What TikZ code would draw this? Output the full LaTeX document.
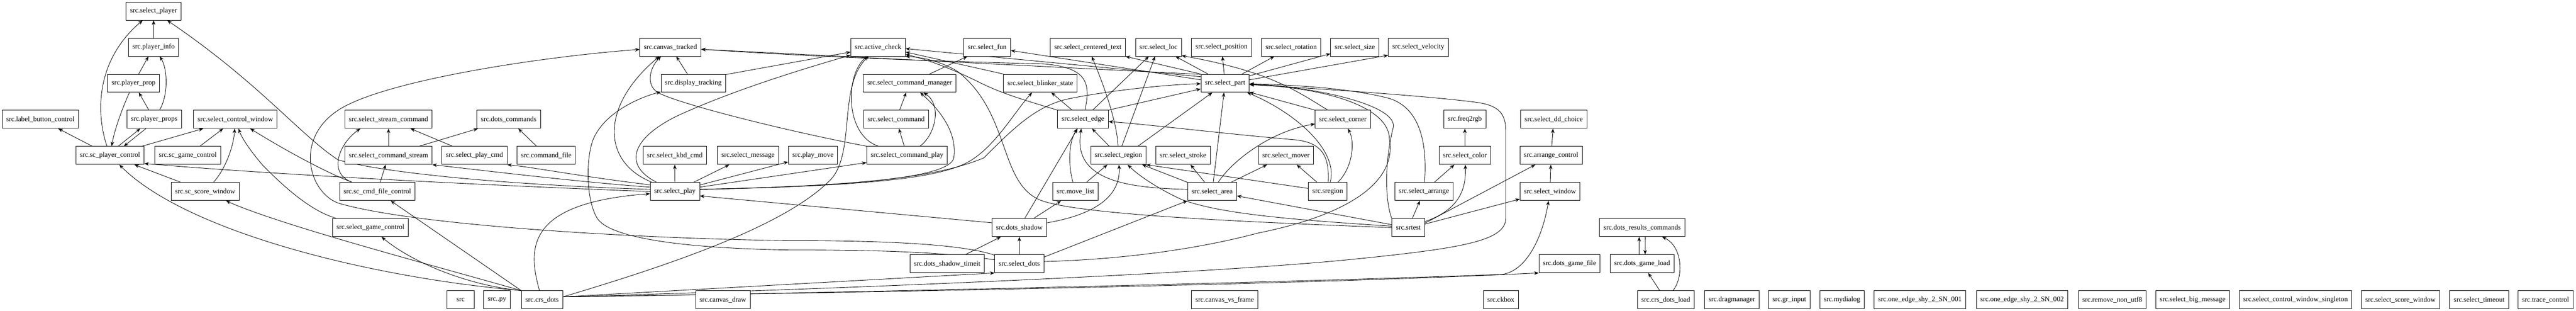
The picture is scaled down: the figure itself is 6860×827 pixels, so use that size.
\documentclass[tikz,border=0pt]{standalone}
\usepackage{fontspec}
\setmainfont{Liberation Serif}
\usetikzlibrary{arrows.meta,calc}
\pgfdeclarelayer{bg}
\pgfsetlayers{bg,main}
\begin{document}
\begin{tikzpicture}[x=0.75pt,y=-0.75pt,
  modbox/.style={draw, line width=0.9pt, rectangle, fill=white, minimum height=36pt, minimum width=54pt, inner xsep=8pt, inner ysep=0pt, font=\fontsize{14pt}{16pt}\selectfont},
  dep/.style={draw, line width=0.9pt, -{Stealth[length=9pt,width=7pt,inset=3pt]}}]
\begin{pgfonlayer}{bg}
\fill[white] (0,0) rectangle (6860,827);
\end{pgfonlayer}
\useasboundingbox (0,0) rectangle (6860,827);
% row 1
\node[modbox] (selplayer) at (409,29.5) {src.select\_player};
% row 2
\node[modbox] (plinfo) at (409,125.5) {src.player\_info};
\node[modbox] (cantr) at (1785.3,125.5) {src.canvas\_tracked};
\node[modbox] (actchk) at (2338.3,125.5) {src.active\_check};
\node[modbox] (selfun) at (2629,125.5) {src.select\_fun};
\node[modbox] (sct) at (2896.9,125.5) {src.select\_centered\_text};
\node[modbox] (selloc) at (3085,125.5) {src.select\_loc};
\node[modbox] (selpos) at (3253,125.5) {src.select\_position};
\node[modbox] (selrot) at (3438.4,125.5) {src.select\_rotation};
\node[modbox] (selsize) at (3607.8,125.5) {src.select\_size};
\node[modbox] (selvel) at (3777,125.5) {src.select\_velocity};
% row 3
\node[modbox] (plprop) at (355.6,221.5) {src.player\_prop};
\node[modbox] (distr) at (1846.3,221.5) {src.display\_tracking};
\node[modbox] (scm) at (2422.5,221.5) {src.select\_command\_manager};
\node[modbox] (sbs) at (2770.5,221.5) {src.select\_blinker\_state};
\node[modbox] (selpart) at (3262.5,221.5) {src.select\_part};
% row 4
\node[modbox] (lbc) at (107.6,317.5) {src.label\_button\_control};
\node[modbox] (plprops) at (410.5,317.5) {src.player\_props};
\node[modbox] (scw) at (626.6,317.5) {src.select\_control\_window};
\node[modbox] (ssc) at (1034.6,317.5) {src.select\_stream\_command};
\node[modbox] (dcmds) at (1354.6,317.5) {src.dots\_commands};
\node[modbox] (selcmd) at (2386.4,317.5) {src.select\_command};
\node[modbox] (seledge) at (2884,317.5) {src.select\_edge};
\node[modbox] (selcorner) at (3576,317.5) {src.select\_corner};
\node[modbox] (freq) at (3901,317.5) {src.freq2rgb};
\node[modbox] (selddc) at (4137.5,317.5) {src.select\_dd\_choice};
% row 5
\node[modbox] (scpc) at (293,413.5) {src.sc\_player\_control};
\node[modbox] (scgc) at (500,413.5) {src.sc\_game\_control};
\node[modbox] (scs) at (1034.6,413.5) {src.select\_command\_stream};
\node[modbox] (spc) at (1263.6,413.5) {src.select\_play\_cmd};
\node[modbox] (cmdfile) at (1454.6,413.5) {src.command\_file};
\node[modbox] (skc) at (1797,413.5) {src.select\_kbd\_cmd};
\node[modbox] (selmsg) at (1992,413.5) {src.select\_message};
\node[modbox] (plmove) at (2165,413.5) {src.play\_move};
\node[modbox] (scp) at (2415.5,413.5) {src.select\_command\_play};
\node[modbox] (selregion) at (2978.3,413.5) {src.select\_region};
\node[modbox] (selstroke) at (3150.5,413.5) {src.select\_stroke};
\node[modbox] (selmover) at (3424.6,413.5) {src.select\_mover};
\node[modbox] (selcolor) at (3901,413.5) {src.select\_color};
\node[modbox] (arrctl) at (4130.6,413.5) {src.arrange\_control};
% row 6
\node[modbox] (scsw) at (546.4,509.5) {src.sc\_score\_window};
\node[modbox] (sccfc) at (1004.8,509.5) {src.sc\_cmd\_file\_control};
\node[modbox] (selplay) at (1797.3,509.5) {src.select\_play};
\node[modbox] (movelist) at (2863.8,509.5) {src.move\_list};
\node[modbox] (selarea) at (3228,509.5) {src.select\_area};
\node[modbox] (sregion) at (3535.8,509.5) {src.sregion};
\node[modbox] (selarr) at (3791.7,509.5) {src.select\_arrange};
\node[modbox] (selwin) at (4127.7,509.5) {src.select\_window};
% row 7
\node[modbox] (sgc) at (986.4,605.5) {src.select\_game\_control};
\node[modbox] (dshadow) at (2714.5,605.5) {src.dots\_shadow};
\node[modbox] (srtest) at (3750.5,605.5) {src.srtest};
\node[modbox] (drc) at (4373.2,605.5) {src.dots\_results\_commands};
% row 8
\node[modbox] (dst) at (2522.3,701.5) {src.dots\_shadow\_timeit};
\node[modbox] (seldots) at (2714.5,701.5) {src.select\_dots};
\node[modbox] (dgfile) at (4179.7,701.5) {src.dots\_game\_file};
\node[modbox] (dgload) at (4373,701.5) {src.dots\_game\_load};
% row 9
\node[modbox] (src) at (1226.6,797.5) {src};
\node[modbox] (srcpy) at (1323.5,797.5) {src..py};
\node[modbox] (crsdots) at (1443.5,797.5) {src.crs\_dots};
\node[modbox] (candraw) at (1925,797.5) {src.canvas\_draw};
\node[modbox] (canvf) at (3261.4,797.5) {src.canvas\_vs\_frame};
\node[modbox] (ckbox) at (3996.9,797.5) {src.ckbox};
\node[modbox] (crsdl) at (4436,797.5) {src.crs\_dots\_load};
\node[modbox] (dragm) at (4612,797.5) {src.dragmanager};
\node[modbox] (grin) at (4765,797.5) {src.gr\_input};
\node[modbox] (mydlg) at (4905.4,797.5) {src.mydialog};
\node[modbox] (sna) at (5112.9,797.5) {src.one\_edge\_shy\_2\_SN\_001};
\node[modbox] (snb) at (5384.8,797.5) {src.one\_edge\_shy\_2\_SN\_002};
\node[modbox] (rnu) at (5625,797.5) {src.remove\_non\_utf8};
\node[modbox] (sbm) at (5839,797.5) {src.select\_big\_message};
\node[modbox] (scws) at (6113,797.5) {src.select\_control\_window\_singleton};
\node[modbox] (sscw) at (6392.5,797.5) {src.select\_score\_window};
\node[modbox] (stime) at (6602,797.5) {src.select\_timeout};
\node[modbox] (trace) at (6778.8,797.5) {src.trace\_control};

\begin{pgfonlayer}{bg}
% left cluster
\draw[dep] (plinfo) -- (selplayer);
\draw[dep] (scpc) .. controls (255,300) and (255,160) .. (selplayer);
\draw[dep] (selplay.175) .. controls (1300,490) and (1000,455) .. (900,425) .. controls (800,360) and (690,220) .. (selplayer);
\draw[dep] (plprop) -- (plinfo);
\draw[dep] (plprops) .. controls (450,250) and (445,180) .. (plinfo);
\draw[dep] (plprops) -- (plprop);
\draw[dep] (plprop) .. controls (325,290) and (305,345) .. (scpc);
\draw[dep] ($(scpc.north)+(22,0)$) -- ($(plprops.south)+(-37,0)$);
\draw[dep] ($(plprops.south)+(-22,0)$) -- ($(scpc.north)+(37,0)$);
\draw[dep] (scpc) -- (lbc);
\draw[dep] (scpc) -- (scw);
\draw[dep] (scgc) -- (scw);
\draw[dep] (scsw) .. controls (600,450) and (622,390) .. (scw);
\draw[dep] (sgc) .. controls (820,560) and (740,480) .. (700,440) .. controls (670,405) and (645,370) .. (scw);
\draw[dep] (sccfc) .. controls (870,460) and (760,400) .. (scw);
\draw[dep] (scsw) -- (scpc);
\draw[dep] (selplay.west) .. controls (1400,497) and (800,470) .. ($(scpc.south east)+(0,-3)$);
\draw[dep] (crsdots.north west) .. controls (1000,740) and (500,620) .. (scpc);
\draw[dep] (crsdots.north west) .. controls (1150,705) and (750,600) .. (scsw);
% command stream cluster
\draw[dep] (sccfc) .. controls (870,460) and (905,380) .. ($(ssc.south)+(-75,0)$);
\draw[dep] (scs) -- (ssc);
\draw[dep] (spc) -- (ssc);
\draw[dep] (scs) -- (dcmds);
\draw[dep] (cmdfile) -- (dcmds);
\draw[dep] (sccfc) -- (scs);
\draw[dep] (selplay.170) .. controls (1550,485) and (1300,455) .. (scs.south east);
\draw[dep] (selplay.165) .. controls (1550,470) and (1420,445) .. (spc.south east);
\draw[dep] (crsdots.north west) -- (sccfc);
\draw[dep] (crsdots.north west) .. controls (1250,760) and (1100,700) .. (sgc);
% select_dots loops
\draw[dep] (seldots) .. controls (2550,645) and (2300,640) .. (2100,640) .. controls (1700,635) and (1100,600) .. (900,540) .. controls (820,510) and (780,360) .. (914,285) .. controls (1050,210) and (1450,150) .. (cantr);
\draw[dep] (seldots) .. controls (2500,668) and (2300,665) .. (2100,665) .. controls (1800,660) and (1620,630) .. (1590,580) .. controls (1560,530) and (1560,420) .. (1580,370) .. controls (1610,300) and (1700,260) .. (distr);
% select_play
\draw[dep] (selplay) -- (skc);
\draw[dep] (selplay) -- (selmsg);
\draw[dep] (selplay) -- (plmove);
\draw[dep] (selplay) .. controls (1600,430) and (1600,280) .. (cantr);
\draw[dep] (selplay) .. controls (1660,440) and (1680,370) .. (1800,310) .. controls (1950,240) and (2150,180) .. (actchk);
\draw[dep] (distr) -- (cantr);
\draw[dep] (distr.15) -- (actchk.190);
\draw[dep] (scp.north west) .. controls (2100,350) and (1800,275) .. (1750,245) .. controls (1720,225) and (1730,180) .. (cantr);
\draw[dep] (crsdots) .. controls (1405,660) and (1400,540) .. (selplay.185);
\draw[dep] (dshadow.170) -- (selplay.-10);
\draw[dep] (crsdots.8) .. controls (1800,700) and (2090,600) .. (2210,480) .. controls (2280,410) and (2230,230) .. (actchk);
\draw[dep] (selplay.10) -- (scp.190);
\draw[dep] (selplay.5) .. controls (2300,495) and (2530,470) .. (2540,420) .. controls (2550,350) and (2500,290) .. (scm);
\draw[dep] (selplay.5) .. controls (2300,495) and (2500,475) .. (2580,430) .. controls (2650,390) and (2700,300) .. (sbs);
\draw[dep] (selplay.5) .. controls (2300,495) and (2500,470) .. (2620,420) .. controls (2700,340) and (2760,280) .. (2850,262) .. controls (2950,242) and (3100,225) .. (selpart);
% command manager cluster
\draw[dep] (scm) -- (selfun);
\draw[dep] (selcmd) -- (scm);
\draw[dep] (scp) -- (selcmd);
\draw[dep] (scp) .. controls (2490,360) and (2510,280) .. (scm);
\draw[dep] (scp) .. controls (2250,360) and (2250,200) .. (actchk);
% select_part to the left
\draw[dep] (selpart.160) -- (cantr.-4);
\draw[dep] (selpart.165) -- (actchk.-3);
\draw[dep] (selpart.172) -- (selfun.-8);
\draw[dep] (selpart.north west) -- (sct.south east);
\draw[dep] (seledge) .. controls (2905,220) and (2895,180) .. (2780,170) .. controls (2450,162) and (2150,150) .. (cantr);
\draw[dep] (seledge.north west) .. controls (2740,270) and (2670,250) .. (2610,220) .. controls (2560,195) and (2480,160) .. (actchk.-15);
\draw[dep] (sbs.north west) -- (actchk.-10);
\draw[dep] (srtest.west) .. controls (3300,590) and (2850,570) .. (2765,530) .. controls (2660,480) and (2690,300) .. (2550,190) .. controls (2500,160) and (2450,152) .. (actchk.south east);
% dots cluster
\draw[dep] (dst) -- (dshadow);
\draw[dep] (seldots) -- (dshadow);
\draw[dep] (crsdots.8) -- (seldots.south west);
\draw[dep] (seldots.15) -- (selarea.south west);
\draw[dep] (seldots.5) .. controls (3000,690) and (3200,660) .. (3350,620) .. controls (3600,570) and (3720,480) .. (3700,370) .. controls (3700,290) and (3550,235) .. (selpart);
\draw[dep] (crsdots.8) .. controls (2200,770) and (3200,730) .. (3600,690) .. controls (3900,660) and (4010,640) .. (4010,580) -- (4010,350) .. controls (4010,300) and (3990,280) .. (3930,272) .. controls (3800,255) and (3500,235) .. (selpart);
% edge / region cluster
\draw[dep] (seledge) -- (sbs);
\draw[dep] (dshadow) -- (seledge);
\draw[dep] (movelist) .. controls (2845,440) and (2845,380) .. (seledge);
\draw[dep] (movelist) -- (selregion);
\draw[dep] (dshadow) -- (movelist);
\draw[dep] (dshadow) .. controls (2920,570) and (2985,520) .. (selregion);
\draw[dep] (selregion) -- (seledge);
\draw[dep] (selregion) .. controls (2975,330) and (2945,240) .. (sct);
\draw[dep] (selregion) -- (selloc);
\draw[dep] (seledge) -- (selloc);
\draw[dep] (seledge.north east) -- (selpart.-167);
\draw[dep] (sregion) .. controls (3540,420) and (3525,380) .. (3450,372) .. controls (3250,355) and (3050,330) .. (seledge.-5);
\draw[dep] ($(selregion.north)+(52,0)$) -- (selpart);
\draw[dep] (selarea.north west) -- (selregion);
\draw[dep] (sregion.171) -- (selregion.south east);
\draw[dep] (srtest.175) .. controls (3450,585) and (3250,570) .. (3145,530) .. controls (3080,500) and (3030,465) .. (selregion);
\draw[dep] (selarea.175) .. controls (3000,500) and (2855,480) .. (seledge);
\draw[dep] (selarea) -- (selstroke);
\draw[dep] (selarea) -- (selpart);
\draw[dep] (selarea) -- (selmover);
\draw[dep] (selarea) .. controls (3280,430) and (3380,350) .. (selcorner);
\draw[dep] (srtest.170) -- (selarea.-10);
% select_part upwards
\draw[dep] (selpart) -- (selpos);
\draw[dep] (selpart) -- (selrot);
\draw[dep] (selpart.17) -- (selsize.-165);
\draw[dep] (selpart.8) -- (selvel.-165);
\draw[dep] (selpart) -- (selloc);
\draw[dep] ($(selcorner.north)+(-40,0)$) .. controls (3450,240) and (3380,190) .. (selloc.-20);
\draw[dep] (selcorner.north west) -- (selpart.-20);
\draw[dep] (sregion) .. controls (3565,400) and (3450,300) .. (selpart);
\draw[dep] (sregion) .. controls (3600,450) and (3610,380) .. (selcorner);
\draw[dep] (sregion) -- (selmover);
\draw[dep] (srtest.north west) .. controls (3690,540) and (3685,440) .. (3710,340) .. controls (3725,280) and (3500,230) .. (selpart);
\draw[dep] (selarr) .. controls (3800,400) and (3790,290) .. (3700,262) .. controls (3600,235) and (3450,226) .. (selpart);
% right cluster
\draw[dep] (srtest) -- (selarr);
\draw[dep] (srtest.20) .. controls (3880,560) and (3905,510) .. (selcolor);
\draw[dep] (srtest.15) -- ($(arrctl.south)+(-42,0)$);
\draw[dep] (srtest.12) -- (selwin.-166);
\draw[dep] (selarr) -- (selcolor);
\draw[dep] (selcolor) -- (freq);
\draw[dep] (arrctl) -- (selddc);
\draw[dep] (selwin) -- (arrctl);
\draw[dep] (crsdots.8) .. controls (2200,780) and (3400,752) .. (4000,730) .. controls (4070,720) and (4110,620) .. (selwin);
\draw[dep] (crsdots.8) .. controls (2500,775) and (3500,755) .. (dgfile.south west);
% load cluster
\draw[dep] (crsdl) -- (dgload);
\draw[dep] (crsdl) .. controls (4485,735) and (4480,655) .. (drc);
\draw[dep] ($(dgload.north)+(-8,0)$) -- ($(drc.south)+(-8,0)$);
\draw[dep] ($(drc.south)+(8,0)$) -- ($(dgload.north)+(8,0)$);
\end{pgfonlayer}
\end{tikzpicture}
\end{document}
